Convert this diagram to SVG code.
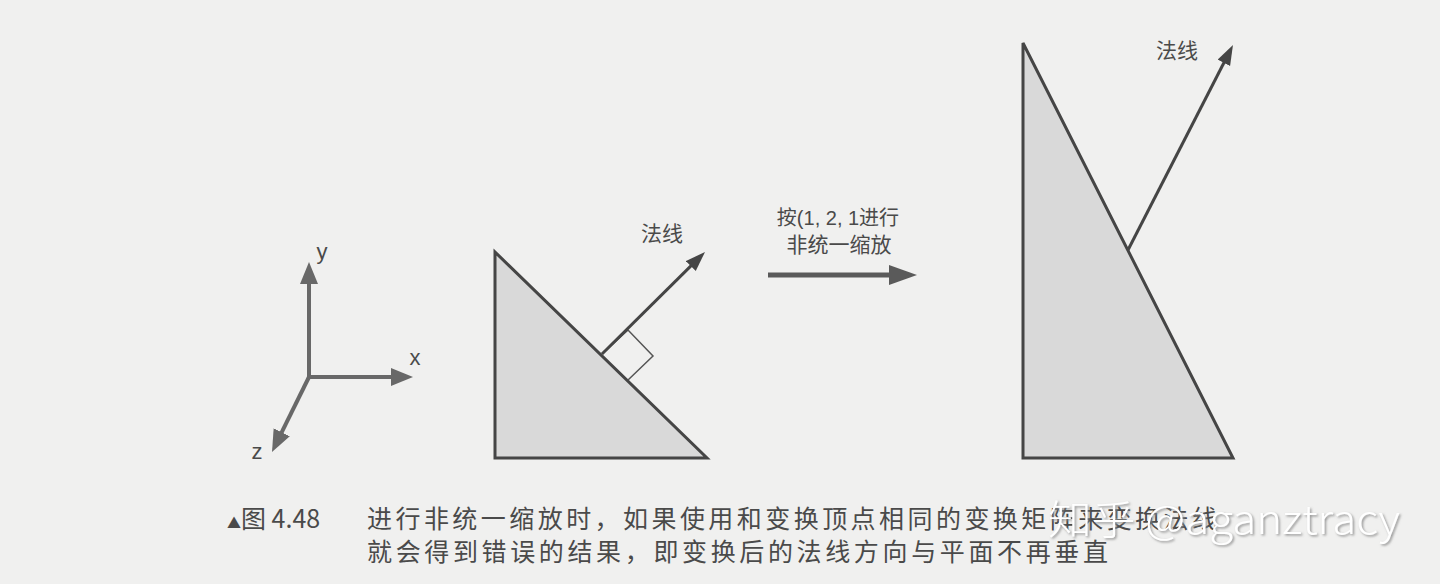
<svg xmlns="http://www.w3.org/2000/svg" width="1440" height="584" viewBox="0 0 1440 584">
  <defs>
    <style>
      .bg { fill: #f0f0ef; }
      .axis { stroke: #686868; stroke-width: 4; fill: none; }
      .lbl { font-family: "Liberation Sans", "Noto Sans CJK SC", sans-serif; fill: #4a4a4a; }
      .cjk { font-family: "Noto Sans CJK SC", sans-serif; fill: #4a4a4a; }
      .tri { fill: #d9d9d9; stroke: #454545; stroke-width: 3; stroke-linejoin: miter; }
      .normal { stroke: #454545; stroke-width: 3; fill: none; }
      .sq { stroke: #555; stroke-width: 1.5; fill: none; }
      .big { stroke: #5a5a5a; stroke-width: 5; fill: none; }
      .wm { font-family: "Noto Sans CJK SC", sans-serif; font-weight: 300; fill: #ffffff; }
    </style>
    <marker id="axHead" markerUnits="userSpaceOnUse" markerWidth="24" markerHeight="20" refX="8" refY="9" orient="auto">
      <path d="M0,0 L22,9 L0,18 z" fill="#686868"/>
    </marker>
    <marker id="nHead" markerUnits="userSpaceOnUse" markerWidth="22" markerHeight="16" refX="8" refY="7" orient="auto">
      <path d="M0,0 L20,7 L0,14 z" fill="#454545"/>
    </marker>
    <marker id="bigHead" markerUnits="userSpaceOnUse" markerWidth="30" markerHeight="22" refX="3" refY="10" orient="auto">
      <path d="M0,0 L28,10 L0,20 z" fill="#5a5a5a"/>
    </marker>
    <filter id="shadow" x="-10%" y="-30%" width="120%" height="160%">
      <feDropShadow dx="1.5" dy="1.5" stdDeviation="1" flood-color="#8a8a8a" flood-opacity="0.9"/>
    </filter>
  </defs>

  <rect class="bg" x="0" y="0" width="1440" height="584"/>

  <g id="axes">
    <line class="axis" x1="309" y1="377" x2="309" y2="276" marker-end="url(#axHead)"/>
    <line class="axis" x1="307" y1="377" x2="399" y2="377" marker-end="url(#axHead)"/>
    <line class="axis" x1="309" y1="377" x2="278.2" y2="439.4" marker-end="url(#axHead)"/>
    <text class="lbl" x="322" y="259" font-size="22" text-anchor="middle">y</text>
    <text class="lbl" x="415" y="365" font-size="22" text-anchor="middle">x</text>
    <text class="lbl" x="257" y="459" font-size="22" text-anchor="middle">z</text>
  </g>

  <g id="triangle-before">
    <polygon class="tri" points="495,252 495,458 707,458"/>
    <polyline class="sq" points="602,354 628,330 653,356 628,380"/>
    <text class="cjk" x="662" y="241" font-size="21" text-anchor="middle">法线</text>
  </g>

  <g id="scale-label">
    <text class="lbl" x="838" y="225" font-size="20" text-anchor="middle">按(1, 2, 1进行</text>
    <text class="cjk" x="839" y="252" font-size="21" text-anchor="middle">非统一缩放</text>
  </g>

  <g id="triangle-after">
    <polygon class="tri" points="1023,43 1023,458 1233,458"/>
    <text class="cjk" x="1177" y="58" font-size="21" text-anchor="middle">法线</text>
  </g>

  <g id="connectors">
    <line class="normal" x1="602" y1="354" x2="696.5" y2="260.4" marker-end="url(#nHead)"/>
    <line class="big" x1="768" y1="275" x2="892" y2="275" marker-end="url(#bigHead)"/>
    <line class="normal" x1="1128" y1="250" x2="1227.5" y2="55.7" marker-end="url(#nHead)"/>
  </g>

  <g id="caption">
    <text class="cjk" x="227" y="528" font-size="25"><tspan font-size="14">▲</tspan>图 4.48</text>
    <text class="cjk" x="367" y="528" font-size="25" textLength="850" lengthAdjust="spacing">进行非统一缩放时，如果使用和变换顶点相同的变换矩阵来变换法线</text>
    <text class="cjk" x="367" y="561" font-size="25" textLength="741" lengthAdjust="spacing">就会得到错误的结果，即变换后的法线方向与平面不再垂直</text>
  </g>

  <g id="watermark" filter="url(#shadow)">
    <text class="wm" x="1048" y="534" font-size="40" textLength="352" lengthAdjust="spacingAndGlyphs">知乎 @aganztracy</text>
  </g>
</svg>
